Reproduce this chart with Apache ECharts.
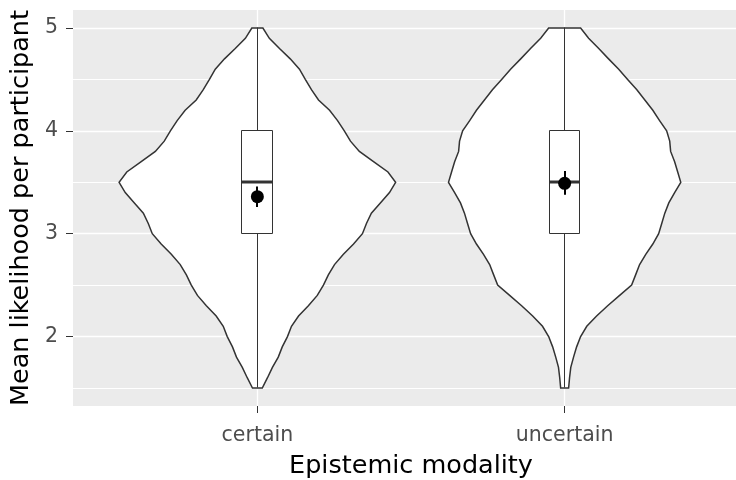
<!DOCTYPE html>
<html>
<head>
<meta charset="utf-8">
<script src="https://cdn.jsdelivr.net/npm/echarts@6/dist/echarts.min.js"></script>
<style>
  html, body { margin: 0; padding: 0; background: #fff; }
  #chart { width: 736px; height: 480px; }
</style>
</head>
<body>
<div id="chart"></div>
<script>
// Groups on the x axis (placed at x = 1, 2)
const categories = ['certain', 'uncertain'];

// Heights at which the violin outlines are traced
const levels = [1.5, 1.6, 1.7, 1.8, 1.9, 2.0, 2.1, 2.2, 2.3, 2.4, 2.5, 2.6,
                2.7, 2.8, 2.9, 3.0, 3.1, 3.2, 3.3, 3.4, 3.5, 3.6, 3.7, 3.8,
                3.9, 4.0, 4.1, 4.2, 4.3, 4.4, 4.5, 4.6, 4.7, 4.8, 4.9, 5.0];

// Violin half-widths (x units) at each level
const certainHalfWidth = [0.016, 0.033, 0.049, 0.068, 0.081, 0.098, 0.111, 0.134, 0.166, 0.195, 0.215, 0.231,
                          0.251, 0.280, 0.313, 0.342, 0.355, 0.371, 0.401, 0.430, 0.450, 0.425, 0.378, 0.332,
                          0.303, 0.283, 0.261, 0.235, 0.199, 0.176, 0.156, 0.137, 0.107, 0.072, 0.039, 0.018];
const uncertainHalfWidth = [0.013, 0.016, 0.020, 0.029, 0.039, 0.052, 0.072, 0.104, 0.140, 0.179, 0.218, 0.231,
                            0.244, 0.264, 0.287, 0.306, 0.316, 0.326, 0.339, 0.358, 0.378, 0.368, 0.358, 0.345,
                            0.342, 0.332, 0.309, 0.287, 0.261, 0.235, 0.205, 0.176, 0.143, 0.111, 0.078, 0.052];

// Box plot statistics per group
const whiskerLow = [1.5, 1.5];
const q1 = [3.0, 3.0];
const median = [3.5, 3.5];
const q3 = [4.0, 4.0];
const whiskerHigh = [5.0, 5.0];

// Group means with confidence interval
const means = [3.36, 3.49];
const ciLow = [3.26, 3.38];
const ciHigh = [3.46, 3.61];

// Axis breaks
const yMajorBreaks = [2, 3, 4, 5];
const yMinorBreaks = [1.5, 2.5, 3.5, 4.5];
const xBreaks = [1, 2];

const halfWidths = [certainHalfWidth, uncertainHalfWidth];
const boxHalf = 0.05;
const FONT = 'DejaVu Sans';
const OUTLINE = '#333333';

// keep 1px strokes crisp
const snap = v => Math.round(v - 0.5) + 0.5;

const chart = echarts.init(document.getElementById('chart'), null, { renderer: 'canvas' });

const gridLineData = []
  .concat(yMajorBreaks.map(v => ({ yAxis: v, lineStyle: { color: '#ffffff', width: 1.3, type: 'solid' } })))
  .concat(yMinorBreaks.map(v => ({ yAxis: v, lineStyle: { color: '#ffffff', width: 1, type: 'solid' } })))
  .concat(xBreaks.map(v => ({ xAxis: v, lineStyle: { color: '#ffffff', width: 1.3, type: 'solid' } })));

function renderViolin(params, api) {
  const i = params.dataIndex;
  const cx = api.value(0);
  const hw = halfWidths[i];
  const left = [], right = [];
  for (let k = 0; k < levels.length; k++) {
    left.push(api.coord([cx - hw[k], levels[k]]));
    right.push(api.coord([cx + hw[k], levels[k]]));
  }
  const points = left.concat(right.reverse());
  return {
    type: 'polygon',
    shape: { points: points },
    style: { fill: '#ffffff', stroke: OUTLINE, lineWidth: 1.5 }
  };
}

function renderBox(params, api) {
  const i = params.dataIndex;
  const cx = api.value(0);
  const xc = snap(api.coord([cx, 0])[0]);
  const xl = snap(api.coord([cx - boxHalf, 0])[0]);
  const xr = snap(api.coord([cx + boxHalf, 0])[0]);
  const y = v => snap(api.coord([cx, v])[1]);
  const lineStyle = { stroke: OUTLINE, lineWidth: 1 };
  return {
    type: 'group',
    children: [
      { type: 'line', shape: { x1: xc, y1: y(whiskerLow[i]), x2: xc, y2: y(q1[i]) }, style: lineStyle },
      { type: 'line', shape: { x1: xc, y1: y(q3[i]), x2: xc, y2: y(whiskerHigh[i]) }, style: lineStyle },
      { type: 'rect', shape: { x: xl, y: y(q3[i]), width: xr - xl, height: y(q1[i]) - y(q3[i]) },
        style: { fill: '#ffffff', stroke: OUTLINE, lineWidth: 1 } },
      { type: 'line', shape: { x1: xl, y1: y(median[i]) - 0.5, x2: xr, y2: y(median[i]) - 0.5 },
        style: { stroke: OUTLINE, lineWidth: 3 } }
    ]
  };
}

function renderRange(params, api) {
  const i = params.dataIndex;
  const cx = api.value(0);
  const xc = Math.round(api.coord([cx, 0])[0]);
  const a = api.coord([cx, ciLow[i]]);
  const b = api.coord([cx, ciHigh[i]]);
  return {
    type: 'line',
    shape: { x1: xc, y1: a[1], x2: xc, y2: b[1] },
    style: { stroke: '#000000', lineWidth: 2 }
  };
}

const groupX = categories.map((c, i) => [i + 1, median[i]]);

chart.setOption({
  animation: false,
  backgroundColor: '#ffffff',
  grid: {
    left: 73, right: -13, top: 10, bottom: 74,
    outerBoundsMode: 'none',
    containLabel: false,
    show: true, backgroundColor: '#EBEBEB', borderWidth: 0
  },
  xAxis: {
    type: 'value',
    min: 0.4, max: 2.6,
    name: 'Epistemic modality',
    nameLocation: 'middle',
    nameGap: 47,
    nameTextStyle: { fontFamily: FONT, fontSize: 25.5, color: '#000000' },
    axisLine: { show: false },
    splitLine: { show: false },
    axisTick: { show: true, length: 7, customValues: xBreaks, lineStyle: { color: OUTLINE, width: 1 } },
    axisLabel: {
      customValues: xBreaks,
      margin: 19,
      fontFamily: FONT, fontSize: 20.5, color: '#4D4D4D',
      formatter: v => categories[Math.round(v) - 1]
    }
  },
  yAxis: {
    type: 'value',
    min: 1.325, max: 5.175,
    name: 'Mean likelihood per participant',
    nameLocation: 'middle',
    nameGap: 32,
    nameRotate: 90,
    nameTextStyle: { fontFamily: FONT, fontSize: 25.5, color: '#000000' },
    axisLine: { show: false },
    splitLine: { show: false },
    axisTick: { show: true, length: 7, customValues: yMajorBreaks, lineStyle: { color: OUTLINE, width: 1 } },
    axisLabel: {
      customValues: yMajorBreaks,
      margin: 15,
      fontFamily: FONT, fontSize: 20.5, color: '#4D4D4D',
      formatter: v => String(v)
    }
  },
  series: [
    {
      type: 'line', data: [], z: 1, silent: true,
      markLine: {
        z: 1, silent: true, symbol: ['none', 'none'], label: { show: false },
        animation: false, data: gridLineData
      }
    },
    { type: 'custom', z: 2, data: groupX, renderItem: renderViolin, silent: true },
    { type: 'custom', z: 3, data: groupX, renderItem: renderBox, silent: true },
    { type: 'custom', z: 4, data: groupX, renderItem: renderRange, silent: true },
    {
      type: 'scatter', z: 5, silent: true,
      data: categories.map((c, i) => [i + 1, means[i]]),
      symbol: 'circle', symbolSize: 13,
      itemStyle: { color: '#000000', opacity: 1 }
    }
  ]
});
</script>
</body>
</html>
